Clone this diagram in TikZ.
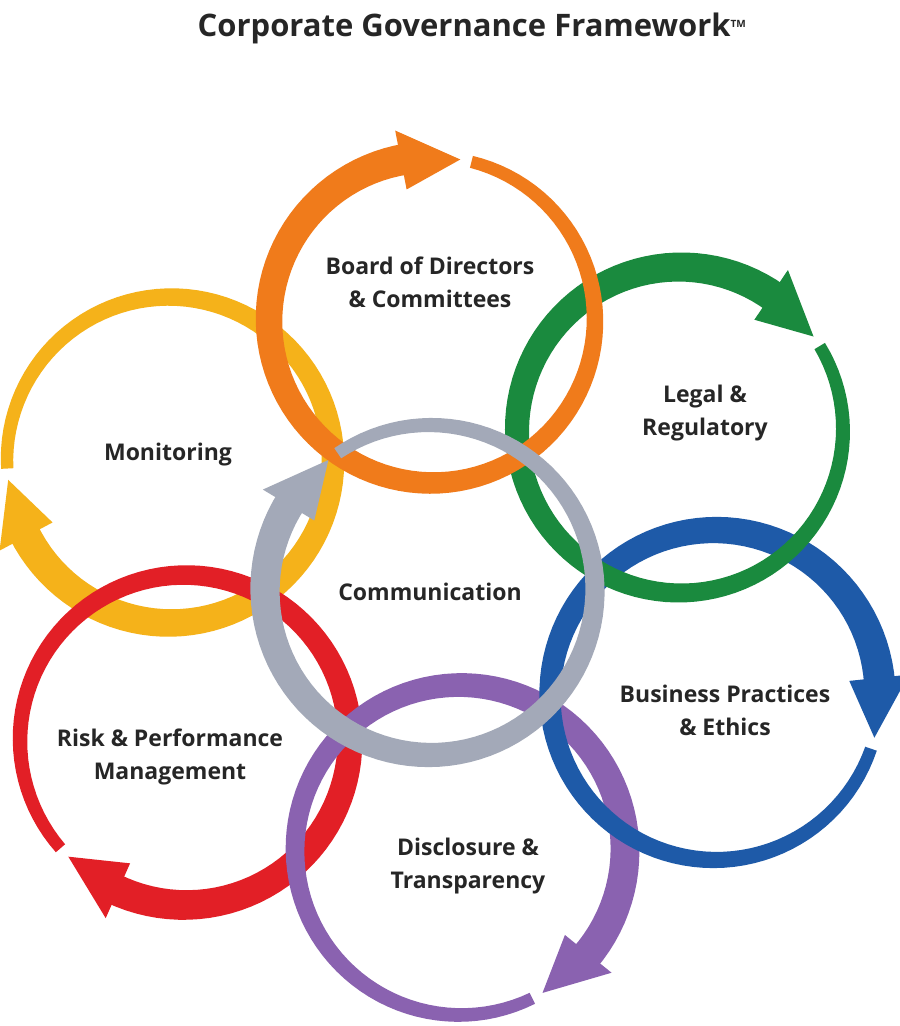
\documentclass[tikz,border=0pt]{standalone}
\usepackage{fontspec}
\setmainfont{Open Sans}
\definecolor{cor}{HTML}{F07B1B}
\definecolor{cgr}{HTML}{1A8A3E}
\definecolor{cbl}{HTML}{1E5AA8}
\definecolor{cpu}{HTML}{8A62B0}
\definecolor{cre}{HTML}{E21F26}
\definecolor{cye}{HTML}{F5B21A}
\definecolor{cgy}{HTML}{A3A9B8}
\newcommand\ringarrow[5]{%
 \pgfmathsetmacro\ra{#4+4}\pgfmathsetmacro\rb{#4+341}\pgfmathsetmacro\rc{#4+339}%
 \fill[#5] plot[domain=\ra:\rb,samples=100] ({#1+(#3+6+0.028*(\x-#4))*cos(\x)},{#2+(#3+6+0.028*(\x-#4))*sin(\x)})
   -- plot[domain=\rb:\ra,samples=100] ({#1+(#3-6-0.028*(\x-#4))*cos(\x)},{#2+(#3-6-0.028*(\x-#4))*sin(\x)}) -- cycle;
 \fill[#5] ({#1+(#3+30)*cos(\rc)},{#2+(#3+30)*sin(\rc)}) -- ({#1+#3*cos(#4)},{#2+#3*sin(#4)})
   -- ({#1+(#3-30)*cos(\rc)},{#2+(#3-30)*sin(\rc)}) -- cycle;}
\tikzset{lbl/.style={font=\fontsize{23}{33}\selectfont\bfseries,align=center,text=black!85}}
\begin{document}
\begin{tikzpicture}[x=1pt,y=-1pt]
\fill[white] (0,0) rectangle (900,1026);
\useasboundingbox (0,0) rectangle (900,1026);
\ringarrow{170}{460}{163}{173}{cye}
\ringarrow{185}{740}{165}{135}{cre}
\ringarrow{460}{850}{165}{60}{cpu}
\ringarrow{715}{695}{165}{15}{cbl}
\ringarrow{680}{430}{163}{-35}{cgr}
\ringarrow{432}{320}{163}{-80}{cor}
\ringarrow{430}{590}{165}{-128}{cgy}
\node[lbl,font=\fontsize{31}{36}\selectfont\bfseries] (title) at (472,28) {Corporate Governance Framework\textsuperscript{\fontsize{10}{10}\selectfont TM}};
\node[lbl] (board) at (430,282) {Board of Directors\\\& Committees};
\node[lbl] (legal) at (705,413) {Legal \&\\Regulatory};
\node[lbl] (mon) at (168,455) {Monitoring};
\node[lbl] (comm) at (430,592) {Communication};
\node[lbl] (bus) at (725,710) {Business Practices\\\& Ethics};
\node[lbl] (risk) at (170,757) {Risk \& Performance\\Management};
\node[lbl] (disc) at (468,866) {Disclosure \&\\Transparency};
\end{tikzpicture}
\end{document}
